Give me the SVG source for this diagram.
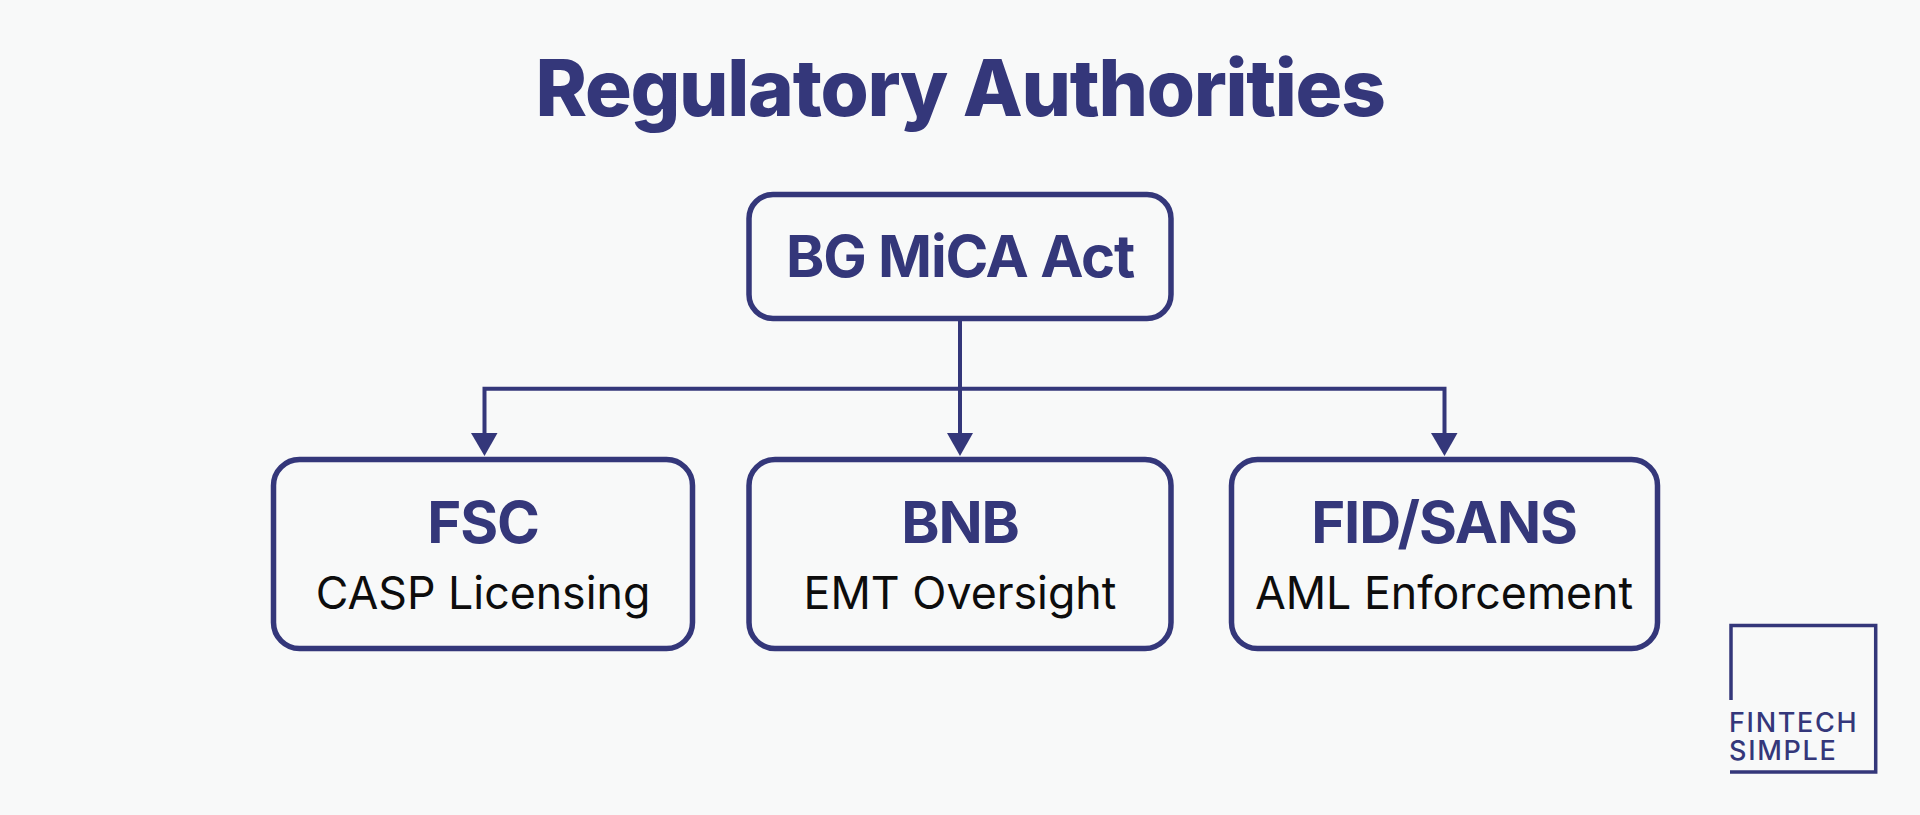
<svg xmlns="http://www.w3.org/2000/svg" width="1920" height="815" viewBox="0 0 1920 815">
<style>
.box{fill:#f8f9f9;stroke:#34377a;stroke-width:5.500}
.h{font-family:Inter,"Liberation Sans",sans-serif;font-weight:700;fill:#34377a;text-anchor:middle;letter-spacing:-1.2px}
.s{font-family:Inter,"Liberation Sans",sans-serif;font-weight:400;fill:#0d0d0d;font-size:44.700px;text-anchor:middle}
.c{fill:none;stroke:#34377a;stroke-width:4}
.a{fill:#34377a}
.l{font-family:Inter,"Liberation Sans",sans-serif;font-weight:500;fill:#34377a;font-size:27px;letter-spacing:1.700px}
.f{fill:none;stroke:#34377a;stroke-width:3.500}
</style>
<rect width="1920" height="815" fill="#f8f9f9"/>
<text id="title" class="h" x="960" y="116" font-size="78" style="font-weight:800;letter-spacing:-1.300px">Regulatory Authorities</text>
<g id="connectors">
<path class="c" d="M960 320V436"/>
<path class="c" d="M484.500 436V388.700H1444.500V436"/>
<polygon class="a" points="471,433 497.500,433 484.500,456"/>
<polygon class="a" points="947,433 973,433 960,456"/>
<polygon class="a" points="1431,433 1457.500,433 1444.500,456"/>
</g>
<g id="node-bg"><rect class="box" x="749" y="194.500" width="422" height="124" rx="24"/><text class="h" x="960" y="277" font-size="58">BG MiCA Act</text></g>
<g id="node-fsc"><rect class="box" x="273.500" y="459.500" width="419" height="189" rx="26"/><text class="h" x="483" y="543" font-size="58">FSC</text><text class="s" x="483" y="609">CASP Licensing</text></g>
<g id="node-bnb"><rect class="box" x="749" y="459.500" width="422" height="189" rx="26"/><text class="h" x="960" y="543" font-size="58">BNB</text><text class="s" x="960" y="609">EMT Oversight</text></g>
<g id="node-fid"><rect class="box" x="1231.500" y="459.500" width="426" height="189" rx="26"/><text class="h" x="1444" y="543" font-size="58">FID/SANS</text><text class="s" x="1444" y="609">AML Enforcement</text></g>
<g id="logo"><path class="f" d="M1731 700V625.500H1875.700V772H1730"/><text class="l" x="1729" y="732">FINTECH</text><text class="l" x="1729" y="760">SIMPLE</text></g>
</svg>
